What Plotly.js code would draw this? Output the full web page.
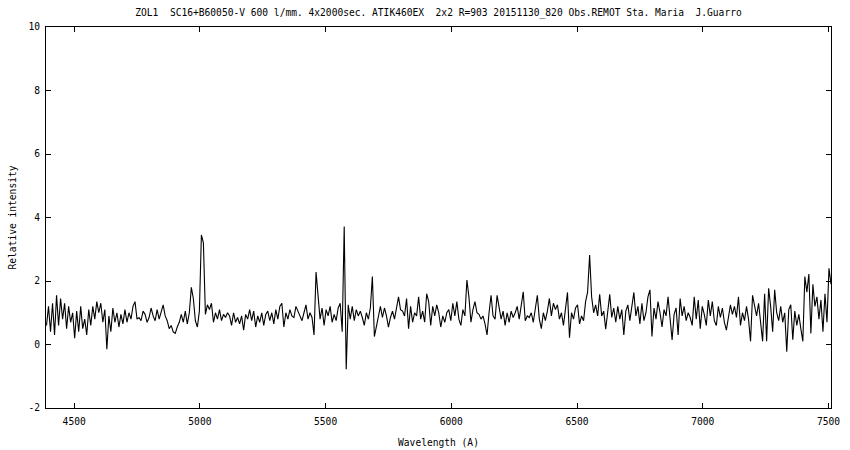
<!DOCTYPE html>
<html>
<head>
<meta charset="utf-8">
<script src="https://cdn.plot.ly/plotly-3.0.1.min.js"></script>
<style>html,body{margin:0;padding:0;background:#fff;}#chart{width:850px;height:450px;}</style>
</head>
<body>
<div id="chart"></div>
<script>
// Spectrum sampled on an 8 A grid starting at 4390 A
const startWavelength = 4390;
const stepWavelength = 8;
const intensity = [
0.6,1.2,0.4,1.3,0.3,1.55,0.6,1.45,0.8,1.3,
0.5,1.2,0.7,1.0,0.2,1.05,0.4,1.2,0.5,0.8,
0.3,1.1,0.6,1.2,0.8,1.35,1.0,1.3,0.7,1.1,
-0.15,0.9,0.4,1.15,0.7,1.0,0.55,0.95,0.65,1.1,
0.7,1.0,0.8,1.2,1.35,0.8,0.85,0.75,1.05,0.95,
0.7,0.85,1.15,0.9,0.75,1.1,0.8,1.05,1.25,0.9,
0.75,0.5,0.6,0.4,0.35,0.55,0.7,
0.95,0.7,1.05,0.65,1.0,1.8,1.45,0.75,0.55,1.05,
3.45,3.2,0.95,1.25,1.1,1.3,0.7,1.0,0.8,1.1,
0.75,0.95,0.85,1.0,0.9,0.6,1.0,0.7,0.85,0.65,
0.9,0.45,0.95,0.8,1.1,0.75,1.05,0.55,0.9,0.7,
1.0,0.6,0.95,1.05,0.75,1.0,0.65,1.1,0.8,1.2,
1.3,0.55,1.0,0.8,1.1,0.9,0.85,1.2,1.05,0.9,
0.75,1.0,1.25,0.8,1.0,0.85,0.3,
2.28,1.6,0.8,1.15,0.6,1.1,0.9,1.2,0.7,0.95,
0.75,1.15,1.3,0.4,3.72,-0.78,1.25,0.8,1.2,0.75,
1.1,0.9,1.05,0.85,0.6,1.0,0.8,1.15,2.14,0.25,
0.6,0.9,1.2,0.85,1.15,0.9,0.55,0.85,1.05,0.8,
1.15,1.5,1.1,1.05,0.9,1.45,0.5,1.2,0.7,1.0,
0.9,1.5,0.8,1.05,0.7,1.6,1.35,0.6,1.2,0.9,
1.25,1.0,0.55,0.9,0.7,1.0,1.1,
0.75,1.3,0.9,1.35,0.8,0.6,1.1,0.9,2.03,1.5,
0.7,1.1,1.35,1.0,0.95,0.8,0.9,0.65,0.3,1.0,
1.55,0.9,0.8,1.55,1.2,0.8,1.05,0.6,1.0,0.7,
1.05,0.85,1.0,1.2,0.8,1.2,1.66,0.75,0.9,0.85,
1.0,0.7,1.1,1.55,0.8,0.5,1.0,0.75,1.05,1.45,
0.9,1.3,1.1,1.25,0.8,1.0,0.6,1.15,1.64,0.21,
1.0,0.8,1.15,1.25,0.65,0.9,
0.75,1.35,1.65,2.82,1.5,1.0,1.25,0.9,1.58,0.9,
1.05,0.48,1.0,1.58,0.85,1.15,0.7,1.2,0.8,1.1,
0.3,1.05,1.25,0.75,1.2,1.64,0.9,1.2,0.65,1.3,
0.75,1.0,1.5,1.72,0.25,1.15,0.8,1.35,1.0,0.55,
1.1,0.9,1.5,0.8,0.14,0.95,1.15,0.3,1.45,0.9,
1.2,0.75,1.0,0.85,0.6,1.5,0.8,1.4,0.5,1.2,
0.95,0.6,1.4,0.9,1.35,0.75,0.6,
1.2,0.85,1.15,0.7,0.45,0.9,1.25,0.95,1.2,0.85,
1.5,0.6,1.0,0.75,1.2,0.8,0.1,1.55,1.15,0.9,
1.3,0.75,0.1,1.6,0.1,1.77,1.2,0.4,1.72,1.0,
0.75,1.2,0.7,1.0,-0.23,1.1,1.25,0.15,1.05,0.6,
0.95,0.5,0.1,2.14,1.65,2.22,0.35,1.9,1.2,1.5,
0.8,1.4,0.4,1.6,0.7,2.4,1.9
];
const wavelength = intensity.map((_, i) => startWavelength + i * stepWavelength);

const xTicks = [4500, 5000, 5500, 6000, 6500, 7000, 7500];
const yTicks = [-2, 0, 2, 4, 6, 8, 10];
const xRange = [4388, 7510];
const yRange = [-2, 10];

const titleText = 'ZOL1  SC16+B60050-V 600 l/mm. 4x2000sec. ATIK460EX  2x2 R=903 20151130_820 Obs.REMOT Sta. Maria  J.Guarro';

const font = {family: 'DejaVu Sans Mono, monospace', size: 9.6, color: '#000'};

const trace = {
  x: wavelength, y: intensity, type: 'scatter', mode: 'lines',
  line: {color: '#000', width: 1.1}, hoverinfo: 'skip', showlegend: false
};

const axisCommon = {
  showline: true, linecolor: '#000', linewidth: 1, mirror: 'allticks',
  ticks: 'inside', ticklen: 5, tickwidth: 1, tickcolor: '#000',
  showgrid: false, zeroline: false, tickfont: font, fixedrange: true
};

const layout = {
  width: 850, height: 450,
  margin: {l: 46, r: 19, t: 27, b: 42},
  paper_bgcolor: '#fff', plot_bgcolor: '#fff',
  font: font,
  title: {text: titleText, font: font, x: 0.5, xref: 'paper', xanchor: 'center', y: 0.971, yref: 'container', yanchor: 'middle'},
  xaxis: Object.assign({}, axisCommon, {
    range: xRange, tickmode: 'array', tickvals: xTicks, ticktext: xTicks.map(String),
    ticklabelstandoff: 4,
    title: {text: 'Wavelength (A)', font: font, standoff: 13}
  }),
  yaxis: Object.assign({}, axisCommon, {
    range: yRange, tickmode: 'array', tickvals: yTicks, ticktext: yTicks.map(String),
    ticklabelstandoff: 3,
    title: {text: 'Relative intensity', font: font, standoff: 10}
  })
};

Plotly.newPlot('chart', [trace], layout, {displayModeBar: false, staticPlot: true});
</script>
</body>
</html>
